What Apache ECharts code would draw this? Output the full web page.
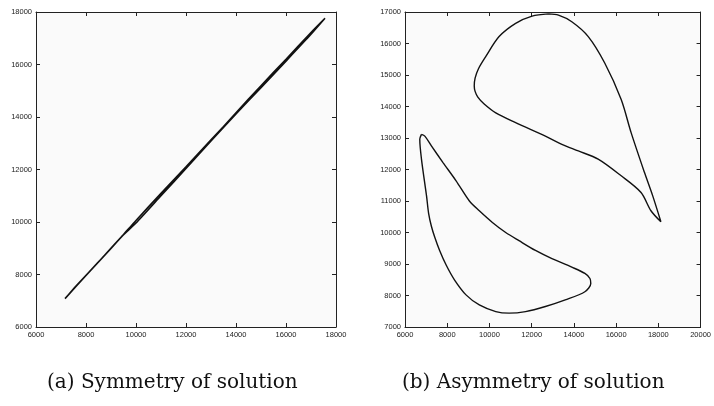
<!DOCTYPE html>
<html>
<head>
<meta charset="utf-8">
<script src="https://cdn.jsdelivr.net/npm/echarts@6/dist/echarts.min.js"></script>
<style>
html,body{margin:0;padding:0;background:#fff;}
#c{width:714px;height:406px;}
</style>
</head>
<body>
<div id="c"></div>
<script>
// ---- data ----
const captionA = "(a) Symmetry of solution";
const captionB = "(b) Asymmetry of solution";

const leftXRange = [6000, 18000];
const leftYRange = [6000, 18000];
const rightXRange = [6000, 20000];
const rightYRange = [7000, 17000];

// (a) near-diagonal thin loop (strands almost coincident)
const symX = [7160, 8000, 9000, 9500, 10000, 11000, 12000, 12500, 13500, 14500, 15500, 16000, 17000, 17560,
              17000, 16000, 15000, 14000, 13000, 12000, 11000, 10000, 9400, 8500, 7600, 7200];
const symY = [7080, 7960, 8990, 9520, 10060, 11090, 12100, 12620, 13640, 14680, 15700, 16200, 17220, 17760,
              17150, 16130, 15120, 14120, 13090, 12040, 11000, 9960, 9420, 8480, 7560, 7120];

// (b) upper teardrop loop
const upX = [12800, 13270, 13900, 14680, 15460, 16240, 16710, 17340, 17730, 18120,
             17650, 17180, 16240, 15150, 14210, 13430, 12650, 11240, 10300, 9750, 9450, 9320, 9280, 9320, 9480, 9830, 10457, 11240, 12020, 12800];
const upY = [16940, 16900, 16690, 16220, 15380, 14220, 13170, 11910, 11170, 10340,
             10690, 11270, 11800, 12330, 12590, 12800, 13060, 13490, 13800, 14080, 14300, 14480, 14650, 14900, 15200, 15590, 16220, 16640, 16870, 16940];

// (b) lower loop
const lowX = [6780, 6700, 6780, 7020, 7120, 7250, 7410, 7640, 7955, 8350, 8890, 9520, 10300, 10930, 11710, 12650, 13590, 14520, 14800, 14760, 14520,
              13900, 12960, 12180, 11400, 10770, 10140, 9520, 9050, 8420, 7800, 7250, 6940, 6780];
const lowY = [13116, 12960, 12330, 11160, 10600, 10200, 9850, 9430, 8960, 8490, 8020, 7700, 7490, 7440, 7490, 7650, 7860, 8120, 8380, 8540, 8700,
              8900, 9170, 9430, 9740, 10000, 10320, 10690, 11000, 11640, 12220, 12750, 13060, 13116];

const pairs = (xs, ys) => xs.map((x, i) => [x, ys[i]]);

const chart = echarts.init(document.getElementById('c'), null, {renderer: 'canvas'});

const labelFont = {fontFamily: 'Liberation Sans, Arial, sans-serif', fontSize: 7.5, color: '#222',
                   formatter: v => String(v)};

function axisBase(gi, range, interval) {
  return {
    type: 'value', gridIndex: gi, min: range[0], max: range[1], interval: interval,
    splitLine: {show: false},
    axisLine: {show: true, lineStyle: {color: '#222', width: 1}},
    axisTick: {show: true, inside: true, length: 4, lineStyle: {color: '#222'}}
  };
}
function xAxes(gi, range, interval) {
  const base = axisBase(gi, range, interval);
  return [
    Object.assign({}, base, {position: 'bottom', axisLabel: Object.assign({margin: 4}, labelFont)}),
    Object.assign({}, base, {position: 'top', axisLabel: {show: false}})
  ];
}
function yAxes(gi, range, interval) {
  const base = axisBase(gi, range, interval);
  return [
    Object.assign({}, base, {position: 'left', axisLabel: Object.assign({margin: 4}, labelFont)}),
    Object.assign({}, base, {position: 'right', axisLabel: {show: false}})
  ];
}

const lineStyle = {color: '#111', width: 1.4};

const option = {
  animation: false,
  backgroundColor: '#ffffff',
  grid: [
    {left: 36, top: 12, width: 300, height: 315, show: true, backgroundColor: '#fafafa', borderWidth: 0},
    {left: 405, top: 12, width: 298, height: 315, show: true, backgroundColor: '#fafafa', borderWidth: 0}
  ],
  xAxis: [].concat(xAxes(0, leftXRange, 2000), xAxes(1, rightXRange, 2000)),
  yAxis: [].concat(yAxes(0, leftYRange, 2000), yAxes(1, rightYRange, 1000)),
  series: [
    {type: 'line', xAxisIndex: 0, yAxisIndex: 0, data: pairs(symX, symY), showSymbol: false, smooth: 0.2, lineStyle: {color: '#111', width: 1.6}},
    {type: 'line', xAxisIndex: 2, yAxisIndex: 2, data: pairs(upX, upY), showSymbol: false, smooth: 0.3, lineStyle: lineStyle},
    {type: 'line', xAxisIndex: 2, yAxisIndex: 2, data: pairs(lowX, lowY), showSymbol: false, smooth: 0.3, lineStyle: lineStyle}
  ],
  graphic: [
    {type: 'text', x: 47, y: 383, style: {text: captionA, font: '20px "DejaVu Serif", serif', fill: '#111', verticalAlign: 'middle'}},
    {type: 'text', x: 402, y: 383, style: {text: captionB, font: '20px "DejaVu Serif", serif', fill: '#111', verticalAlign: 'middle'}}
  ]
};
chart.setOption(option);
</script>
</body>
</html>
